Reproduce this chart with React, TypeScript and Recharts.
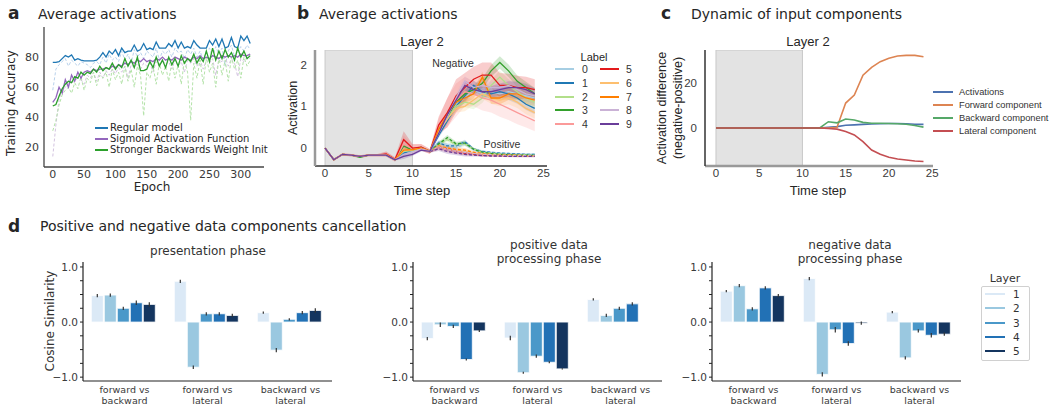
import React from 'react';
import { LineChart, ComposedChart, BarChart, Line, Area, Bar, ErrorBar, XAxis, YAxis, ReferenceArea } from 'recharts';

const FONT = '"DejaVu Sans", "Liberation Sans", sans-serif';
const ARIAL = '"Liberation Sans", Arial, sans-serif';
const INK = '#262626';
const TICK = { fontSize: 11, fill: '#3a3a3a' };
const TICK_ARIAL = { fontSize: 11.5, fill: '#3a3a3a', fontFamily: ARIAL };

// ---- a: training accuracy per epoch ----
const EPOCHS = [0, 5, 10, 15, 20, 25, 30, 35, 40, 45, 50, 55, 60, 65, 70, 75, 80, 85, 90, 95, 100, 105, 110, 115, 120, 125, 130, 135, 140, 145, 150, 155, 160, 165, 170, 175, 180, 185, 190, 195, 200, 205, 210, 215, 220, 225, 230, 235, 240, 245, 250, 255, 260, 265, 270, 275, 280, 285, 290, 295, 300, 305, 310, 315];
const REGULAR = [76.5, 76.5, 77, 79, 81, 80, 81.5, 78, 79, 78, 77.5, 77.5, 77.5, 77.5, 78, 80, 83, 80, 84, 82, 85, 81, 86, 83, 84, 84, 88, 84, 85, 89, 85, 86, 85, 90, 86, 86, 86, 89, 87, 91, 86, 90, 86, 87, 86, 91, 88, 86, 86, 86, 91, 88, 92, 87, 92, 86, 87, 93, 87, 86, 94, 91, 94, 89];
const REGULAR_DASH = [58, 72, 75, 77, 79, 74, 78, 76, 74, 77, 76, 75, 73, 76, 77, 75, 80, 76, 82, 78, 80, 77, 84, 78, 82, 76, 85, 80, 83, 79, 84, 82, 80, 86, 78, 84, 82, 85, 80, 86, 83, 84, 79, 85, 82, 86, 80, 84, 78, 84, 86, 80, 87, 82, 86, 74, 84, 88, 80, 83, 87, 84, 88, 85];
const SIGMOID = [50, 53, 60, 56, 65, 60, 68, 64, 70, 66, 70, 71, 70, 72, 71, 72, 72, 73, 72, 74, 73, 75, 74, 76, 75, 77, 76, 78, 77, 79, 77, 78, 77, 79, 78, 80, 78, 79, 78, 80, 79, 78, 80, 79, 78, 80, 79, 81, 79, 80, 79, 81, 80, 79, 81, 80, 81, 80, 81, 80, 82, 81, 81, 82];
const SIGMOID_DASH = [14, 35, 52, 58, 60, 62, 63, 64, 66, 65, 62, 68, 66, 70, 64, 70, 66, 71, 68, 72, 69, 73, 70, 74, 66, 75, 73, 76, 72, 76, 74, 76, 70, 77, 74, 78, 75, 77, 72, 78, 74, 77, 70, 78, 76, 79, 74, 78, 72, 78, 76, 79, 68, 78, 77, 80, 74, 79, 76, 67, 79, 77, 80, 79];
const BACKWARD = [47.5, 48.5, 54, 59, 62, 64, 63, 67, 66, 70, 68, 70, 69, 72, 70, 74, 71, 73, 72, 76, 72, 75, 73, 79, 74, 78, 73, 80, 71, 71, 72, 77, 73, 80, 74, 78, 73, 80, 75, 79, 74, 81, 76, 79, 77, 82, 76, 80, 77, 84, 77, 86, 78, 84, 79, 85, 80, 83, 78, 86, 80, 84, 79, 81];
const BACKWARD_DASH = [31, 38, 48, 55, 58, 60, 56, 63, 59, 67, 58, 66, 63, 70, 61, 68, 66, 70, 60, 72, 65, 70, 62, 74, 64, 72, 60, 74, 68, 41, 70, 66, 74, 62, 76, 68, 74, 64, 77, 66, 75, 62, 78, 70, 38, 76, 66, 78, 62, 80, 70, 76, 60, 80, 68, 78, 64, 80, 72, 78, 66, 80, 74, 78];
const MODELS = ['Regular model', 'Sigmoid Activation Function', 'Stronger Backwards Weight Init'];
const MODEL_COLORS = ['#1f77b4', '#9467bd', '#2ca02c'];
const MODEL_LIGHT = ['#b9d2ec', '#d3c3e0', '#b4e3a9'];

// ---- b: average activations per label ----
const STEPS = [0, 1, 2, 3, 4, 5, 6, 7, 8, 9, 10, 11, 12, 13, 14, 15, 16, 17, 18, 19, 20, 21, 22, 23, 24];
const LABELS = ['0', '1', '2', '3', '4', '5', '6', '7', '8', '9'];
const LABEL_COLORS = ['#a6cee3', '#1f78b4', '#b2df8a', '#33a02c', '#fb9a99', '#e31a1c', '#fdbf6f', '#ff7f00', '#cab2d6', '#6a3d9a'];
const NEG = [
  [0, -0.28, -0.15, -0.17, -0.2, -0.17, -0.17, -0.17, -0.28, -0.1, -0.08, 0, -0.08, 0.35, 0.75, 1.05, 1.2, 1.4, 1.3, 1.35, 1.3, 1.35, 1.3, 1.25, 1.2],
  [0, -0.28, -0.15, -0.17, -0.2, -0.17, -0.17, -0.17, -0.28, -0.12, -0.05, 0, -0.08, 0.3, 0.65, 1.0, 1.25, 1.5, 1.35, 1.3, 1.35, 1.3, 1.2, 1.05, 0.95],
  [0, -0.28, -0.15, -0.17, -0.21, -0.17, -0.17, -0.17, -0.28, -0.08, -0.06, 0, -0.08, 0.4, 0.7, 1.0, 1.1, 1.05, 1.2, 1.5, 1.7, 1.5, 1.35, 1.2, 1.1],
  [0, -0.28, -0.15, -0.17, -0.22, -0.17, -0.17, -0.16, -0.28, 0.05, -0.05, 0.02, -0.08, 0.45, 0.75, 1.1, 1.3, 1.4, 1.55, 1.85, 2.05, 1.85, 1.6, 1.45, 1.3],
  [0, -0.28, -0.15, -0.17, -0.2, -0.17, -0.17, -0.15, -0.28, 0.1, -0.02, 0.02, -0.08, 0.5, 0.85, 1.15, 1.35, 1.3, 1.2, 1.15, 1.05, 0.95, 0.85, 0.75, 0.65],
  [0, -0.28, -0.15, -0.17, -0.2, -0.17, -0.17, -0.14, -0.27, 0.2, 0, 0.02, -0.08, 0.55, 0.85, 1.25, 1.45, 1.65, 1.75, 1.75, 1.5, 1.5, 1.45, 1.45, 1.4],
  [0, -0.28, -0.15, -0.17, -0.2, -0.17, -0.17, -0.16, -0.28, -0.05, -0.05, 0, -0.08, 0.4, 0.7, 0.95, 1.0, 1.15, 1.3, 1.2, 1.15, 1.2, 1.1, 0.95, 0.85],
  [0, -0.28, -0.15, -0.17, -0.2, -0.17, -0.17, -0.16, -0.28, -0.05, -0.04, 0, -0.08, 0.45, 0.8, 1.1, 1.2, 1.3, 1.7, 1.2, 1.2, 1.3, 1.3, 1.2, 1.15],
  [0, -0.28, -0.15, -0.17, -0.2, -0.17, -0.17, -0.17, -0.28, -0.15, -0.1, -0.02, -0.08, 0.35, 0.75, 1.2, 1.6, 1.45, 1.5, 1.45, 1.45, 1.5, 1.4, 1.3, 1.25],
  [0, -0.28, -0.15, -0.17, -0.2, -0.17, -0.17, -0.17, -0.28, -0.2, -0.15, -0.05, -0.08, 0.35, 0.8, 1.15, 1.5, 1.4, 1.35, 1.35, 1.4, 1.45, 1.45, 1.4, 1.3],
];
// positive-data runs only split off from step 12
const POS_START = 12;
const POS = [
  [-0.08, 0.15, 0.05, 0.0, 0.1, -0.05, -0.1, -0.12, -0.13, -0.14, -0.15, -0.15, -0.15],
  [-0.08, 0.12, 0.05, 0.05, 0.15, -0.02, -0.08, -0.1, -0.12, -0.13, -0.14, -0.15, -0.15],
  [-0.08, 0.1, 0.2, 0.08, 0.1, -0.02, -0.1, -0.12, -0.14, -0.15, -0.16, -0.16, -0.17],
  [-0.08, 0.1, 0.25, 0.1, 0.12, -0.03, -0.1, -0.13, -0.15, -0.16, -0.17, -0.17, -0.18],
  [-0.08, 0.0, -0.05, -0.1, -0.12, -0.15, -0.17, -0.18, -0.19, -0.19, -0.2, -0.2, -0.2],
  [-0.08, 0.02, -0.02, -0.08, -0.12, -0.15, -0.17, -0.18, -0.18, -0.19, -0.19, -0.19, -0.19],
  [-0.08, 0.05, 0.0, -0.05, -0.08, -0.12, -0.14, -0.16, -0.17, -0.17, -0.18, -0.18, -0.18],
  [-0.08, 0.05, 0.0, -0.03, -0.05, -0.1, -0.13, -0.15, -0.16, -0.17, -0.17, -0.18, -0.18],
  [-0.08, 0.03, -0.03, -0.08, -0.1, -0.13, -0.15, -0.16, -0.17, -0.18, -0.18, -0.18, -0.19],
  [-0.08, -0.02, -0.08, -0.12, -0.15, -0.17, -0.18, -0.19, -0.19, -0.2, -0.2, -0.2, -0.2],
];
const SPREAD_WIDE = [0, 0.03, 0.03, 0.03, 0.03, 0.03, 0.03, 0.06, 0.05, 0.2, 0.1, 0.08, 0.06, 0.2, 0.35, 0.4, 0.35, 0.3, 0.3, 0.3, 0.3, 0.28, 0.28, 0.26, 0.25];
const SPREAD_NARROW = [0, 0.01, 0.01, 0.01, 0.01, 0.01, 0.01, 0.02, 0.02, 0.06, 0.04, 0.03, 0.03, 0.06, 0.08, 0.1, 0.12, 0.12, 0.12, 0.14, 0.15, 0.15, 0.14, 0.14, 0.14];
const WIDE_LABELS = [4, 5];
const SPREAD_POS = [0.03, 0.05, 0.06, 0.05, 0.05, 0.03, 0.03, 0.02, 0.02, 0.02, 0.02, 0.02, 0.02];

// ---- c: input components ----
const ACTIVATIONS = [0, 0, 0, 0, 0, 0, 0, 0, 0, 0, 0, 0, 0, 0.3, 0.6, 1.2, 1.4, 1.6, 1.8, 1.9, 2.0, 2.0, 1.9, 1.7, 1.6];
const FORWARD = [0, 0, 0, 0, 0, 0, 0, 0, 0, 0, 0, 0, 0, 0, 0.3, 11.1, 14.7, 23.5, 27, 29.5, 31, 32, 32.3, 32.3, 31.7];
const BACKWARD_C = [0, 0, 0, 0, 0, 0, 0, 0, 0, 0, 0, 0, 0, 2.8, 2.3, 4.0, 3.6, 2.5, 2.1, 2.1, 2.0, 1.9, 1.7, 1.1, 0.4];
const LATERAL = [0, 0, 0, 0, 0, 0, 0, 0, 0, 0, 0, 0, 0, -0.2, -0.5, -1.6, -3.1, -6.1, -9.8, -11.7, -13, -13.8, -14.2, -14.7, -14.9];
const COMPONENTS = ['Activations', 'Forward component', 'Backward component', 'Lateral component'];
const COMP_COLORS = ['#4c72b0', '#dd8452', '#55a868', '#c44e52'];

// ---- d: cosine similarity ----
const PAIRS = ['forward vs\nbackward', 'forward vs\nlateral', 'backward vs\nlateral'];
const LAYERS = ['1', '2', '3', '4', '5'];
const LAYER_COLORS = ['#dbe9f6', '#9ac8e0', '#4a98c9', '#2271b5', '#14355f'];
const PRESENT = [[0.48, 0.74, 0.17], [0.49, -0.82, -0.51], [0.25, 0.15, 0.05], [0.35, 0.15, 0.17], [0.32, 0.12, 0.21]];
const PRESENT_ERR = [[0.03, 0.03, 0.02], [0.03, 0.03, 0.04], [0.03, 0.03, 0.02], [0.04, 0.03, 0.03], [0.04, 0.03, 0.04]];
const POSITIVE = [[-0.3, -0.29, 0.41], [-0.05, -0.92, 0.12], [-0.08, -0.62, 0.25], [-0.68, -0.73, 0.33], [-0.16, -0.85, 0]];
const POSITIVE_ERR = [[0.03, 0.04, 0.02], [0.04, 0.02, 0.03], [0.03, 0.03, 0.03], [0.02, 0.02, 0.03], [0.02, 0.01, 0.01]];
const NEGATIVE = [[0.56, 0.79, 0.18], [0.66, -0.95, -0.65], [0.24, -0.14, -0.16], [0.62, -0.39, -0.24], [0.48, -0.02, -0.22]];
const NEGATIVE_ERR = [[0.02, 0.03, 0.02], [0.03, 0.04, 0.03], [0.03, 0.05, 0.03], [0.03, 0.04, 0.04], [0.03, 0.03, 0.03]];
const SIM_TICKS = [-1, -0.75, -0.5, -0.25, 0, 0.25, 0.5, 0.75, 1];

const accRows = EPOCHS.map((e, i) => ({
  epoch: e,
  m0: REGULAR[i], d0: REGULAR_DASH[i],
  m1: SIGMOID[i], d1: SIGMOID_DASH[i],
  m2: BACKWARD[i], d2: BACKWARD_DASH[i],
}));

const actRows = STEPS.map((t, i) => {
  const row: any = { t };
  LABELS.forEach((_, k) => {
    const sp = WIDE_LABELS.includes(k) ? SPREAD_WIDE : SPREAD_NARROW;
    row['n' + k] = NEG[k][i];
    row['bn' + k] = [NEG[k][i] - sp[i], NEG[k][i] + sp[i]];
    if (t >= POS_START) {
      const j = t - POS_START;
      row['p' + k] = POS[k][j];
      row['bp' + k] = [POS[k][j] - SPREAD_POS[j], POS[k][j] + SPREAD_POS[j]];
    }
  });
  return row;
});

const compRows = STEPS.map((t, i) => ({ t, c0: ACTIVATIONS[i], c1: FORWARD[i], c2: BACKWARD_C[i], c3: LATERAL[i] }));

const simRows = (vals: number[][], errs: number[][]) =>
  PAIRS.map((name, j) => {
    const row: any = { name };
    LAYERS.forEach((_, k) => { row['l' + k] = vals[k][j]; row['e' + k] = errs[k][j]; });
    return row;
  });

const MT = 6, MR = 14;
function frame(x0: number, y0: number, x1: number, y1: number, yW: number, xH: number) {
  return { left: x0 - yW, top: y0 - MT, width: yW + (x1 - x0) + MR, height: MT + (y1 - y0) + xH };
}

function Txt({ x, y, size = 12, anchor = 'start', bold = false, rotate = false, color = INK, font, children }: any) {
  const tx = anchor === 'middle' ? '-50%' : '0';
  return (
    <div style={{
      position: 'absolute', left: x, top: y, fontSize: size, fontWeight: bold ? 700 : 400, color,
      fontFamily: font || FONT, lineHeight: 1.15, whiteSpace: 'nowrap', textAlign: 'center',
      transform: rotate ? 'translate(-50%,-50%) rotate(-90deg)' : `translate(${tx},-50%)`,
    }}>{children}</div>
  );
}

function Swatch({ x, y, w = 20, color, dash = false }: any) {
  return <div style={{ position: 'absolute', left: x, top: y - 1, width: w, height: 0, borderTop: `2px ${dash ? 'dashed' : 'solid'} ${color}` }} />;
}

function PairTick({ x, y, payload }: any) {
  const lines = String(payload.value).split('\n');
  return (
    <text x={x} y={y + 12} textAnchor="middle" fontSize={9.5} fill="#3a3a3a">
      {lines.map((l, i) => <tspan key={i} x={x} dy={i === 0 ? 0 : 11}>{l}</tspan>)}
    </text>
  );
}

const simFmt = (v: number) => (v === 1 ? '1.0' : v === 0 ? '0.0' : v === -1 ? '\u22121.0' : '');

function SimChart({ x0, rows }: { x0: number; rows: any[] }) {
  const f = frame(x0, 262, x0 + 249, 381, 34, 30);
  return (
    <div style={{ position: 'absolute', left: f.left, top: f.top }}>
      <BarChart width={f.width} height={f.height} data={rows} margin={{ top: MT, right: MR, left: 0, bottom: 0 }}
        barCategoryGap="10%" barGap={1}>
        <XAxis dataKey="name" tick={<PairTick />} tickLine={false} tickSize={0} tickMargin={0} height={30} interval={0}
          axisLine={{ stroke: '#222', strokeWidth: 1.2 }} />
        <YAxis type="number" domain={[-1.07, 1.09]} ticks={SIM_TICKS} tickFormatter={simFmt} allowDataOverflow width={34}
          tick={{ fontSize: 10.5, fill: '#3a3a3a' }} tickSize={3} tickMargin={2}
          axisLine={{ stroke: '#222', strokeWidth: 1.2 }} tickLine={{ stroke: '#222' }} />
        {LAYERS.map((l, k) => (
          <Bar key={l} dataKey={'l' + k} fill={LAYER_COLORS[k]} stroke="#fff" strokeWidth={0.8} isAnimationActive={false}>
            <ErrorBar dataKey={'e' + k} width={0} stroke="#333" strokeWidth={1.2} direction="y" />
          </Bar>
        ))}
      </BarChart>
    </div>
  );
}

export default function App() {
  const fa = frame(44, 27, 264, 167, 34, 20);
  const fb = frame(315, 50, 547, 166, 30, 20);
  const fc = frame(705, 50, 933, 166, 30, 20);
  return (
    <div style={{ position: 'absolute', left: 0, top: 0, width: 1049, height: 408, background: '#fff', fontFamily: FONT, overflow: 'hidden' }}>
      {/* panel a */}
      <Txt x={8} y={14} size={17} bold>a</Txt>
      <Txt x={38} y={14} size={14}>Average activations</Txt>
      <div style={{ position: 'absolute', left: fa.left, top: fa.top }}>
        <LineChart width={fa.width} height={fa.height} data={accRows} margin={{ top: MT, right: MR, left: 0, bottom: 0 }}>
          <XAxis dataKey="epoch" type="number" domain={[-14, 337]} ticks={[0, 50, 100, 150, 200, 250, 300]} allowDataOverflow
            tick={TICK} tickLine={false} tickSize={0} tickMargin={3} height={20} axisLine={{ stroke: '#444', strokeWidth: 1.3 }} />
          <YAxis type="number" domain={[7, 100]} ticks={[20, 40, 60, 80]} allowDataOverflow width={34}
            tick={TICK} tickLine={false} tickSize={0} tickMargin={5} axisLine={{ stroke: '#444', strokeWidth: 1.3 }} />
          {MODELS.map((m, k) => (
            <Line key={'d' + k} dataKey={'d' + k} stroke={MODEL_LIGHT[k]} strokeWidth={1} strokeDasharray="3 2" dot={false} isAnimationActive={false} />
          ))}
          {MODELS.map((m, k) => (
            <Line key={'m' + k} dataKey={'m' + k} stroke={MODEL_COLORS[k]} strokeWidth={1.3} dot={false} isAnimationActive={false} />
          ))}
        </LineChart>
      </div>
      {MODELS.map((m, k) => (
        <React.Fragment key={m}>
          <Swatch x={95} y={128 + k * 11} w={13} color={MODEL_COLORS[k]} />
          <Txt x={110} y={128 + k * 11} size={10}>{m}</Txt>
        </React.Fragment>
      ))}
      <Txt x={12} y={103} size={12} rotate>Training Accuracy</Txt>
      <Txt x={152} y={188} size={12} anchor="middle">Epoch</Txt>

      {/* panel b */}
      <Txt x={297} y={14} size={17} bold>b</Txt>
      <Txt x={319} y={14} size={14}>Average activations</Txt>
      <Txt x={422} y={42} size={13} anchor="middle" font={ARIAL}>Layer 2</Txt>
      <div style={{ position: 'absolute', left: fb.left, top: fb.top }}>
        <ComposedChart width={fb.width} height={fb.height} data={actRows} margin={{ top: MT, right: MR, left: 0, bottom: 0 }}>
          <XAxis dataKey="t" type="number" domain={[-1.15, 25.4]} ticks={[0, 5, 10, 15, 20, 25]} allowDataOverflow
            tick={TICK_ARIAL} tickLine={false} tickSize={0} tickMargin={3} height={20} axisLine={{ stroke: '#333', strokeWidth: 1.5 }} />
          <YAxis type="number" domain={[-0.43, 2.35]} ticks={[0, 1, 2]} allowDataOverflow width={30}
            tick={TICK_ARIAL} tickLine={false} tickSize={0} tickMargin={8} axisLine={{ stroke: '#999', strokeWidth: 2.5 }} />
          <ReferenceArea x1={0} x2={10} y1={-0.43} y2={2.35} fill="#e3e3e3" fillOpacity={1} stroke="#c8c8c8" strokeWidth={1} ifOverflow="hidden" />
          {LABELS.map((l, k) => (
            <Area key={'bn' + k} dataKey={'bn' + k} stroke="none" fill={LABEL_COLORS[k]} fillOpacity={0.22} isAnimationActive={false} />
          ))}
          {LABELS.map((l, k) => (
            <Area key={'bp' + k} dataKey={'bp' + k} stroke="none" fill={LABEL_COLORS[k]} fillOpacity={0.22} isAnimationActive={false} />
          ))}
          {LABELS.map((l, k) => (
            <Line key={'p' + k} dataKey={'p' + k} stroke={LABEL_COLORS[k]} strokeWidth={1.3} strokeDasharray="3 2" dot={false} isAnimationActive={false} />
          ))}
          {LABELS.map((l, k) => (
            <Line key={'n' + k} dataKey={'n' + k} stroke={LABEL_COLORS[k]} strokeWidth={1.3} dot={false} isAnimationActive={false} />
          ))}
        </ComposedChart>
      </div>
      <Txt x={453} y={63} size={10.5} color="#333" anchor="middle" font={ARIAL}>Negative</Txt>
      <Txt x={502} y={144} size={10.5} color="#333" anchor="middle" font={ARIAL}>Positive</Txt>
      <Txt x={293} y={108} size={12.5} rotate font={ARIAL}>Activation</Txt>
      <Txt x={422} y={191} size={13} anchor="middle" font={ARIAL}>Time step</Txt>
      <Txt x={594} y={57} size={11} anchor="middle" font={ARIAL}>Label</Txt>
      {LABELS.map((l, k) => {
        const col = k < 5 ? 0 : 1;
        const row = k % 5;
        const y = 69 + row * 13.8;
        return (
          <React.Fragment key={l}>
            <Swatch x={col ? 600 : 555} y={y} w={19} color={LABEL_COLORS[k]} />
            <Txt x={col ? 626 : 582} y={y} size={10.5} color="#333" font={ARIAL}>{l}</Txt>
          </React.Fragment>
        );
      })}

      {/* panel c */}
      <Txt x={661} y={14} size={17} bold>c</Txt>
      <Txt x={691} y={14} size={14}>Dynamic of input components</Txt>
      <Txt x={808} y={42} size={13} anchor="middle" font={ARIAL}>Layer 2</Txt>
      <div style={{ position: 'absolute', left: fc.left, top: fc.top }}>
        <LineChart width={fc.width} height={fc.height} data={compRows} margin={{ top: MT, right: MR, left: 0, bottom: 0 }}>
          <XAxis dataKey="t" type="number" domain={[-1.27, 25.1]} ticks={[0, 5, 10, 15, 20, 25]} allowDataOverflow
            tick={TICK_ARIAL} tickLine={false} tickSize={0} tickMargin={3} height={20} axisLine={{ stroke: '#999', strokeWidth: 2.5 }} />
          <YAxis type="number" domain={[-16.9, 34.7]} ticks={[0, 20]} allowDataOverflow width={30}
            tick={TICK_ARIAL} tickLine={false} tickSize={0} tickMargin={8} axisLine={{ stroke: '#333', strokeWidth: 1.5 }} />
          <ReferenceArea x1={0} x2={10} y1={-16.9} y2={34.7} fill="#e3e3e3" fillOpacity={1} stroke="#c8c8c8" strokeWidth={1} ifOverflow="hidden" />
          {COMPONENTS.map((c, k) => (
            <Line key={c} dataKey={'c' + k} stroke={COMP_COLORS[k]} strokeWidth={1.6} dot={false} isAnimationActive={false} />
          ))}
        </LineChart>
      </div>
      <Txt x={662} y={108} size={12.5} rotate font={ARIAL}>Activation difference</Txt>
      <Txt x={678} y={108} size={12.5} rotate font={ARIAL}>(negative-positive)</Txt>
      <Txt x={818} y={191} size={13} anchor="middle" font={ARIAL}>Time step</Txt>
      {COMPONENTS.map((c, k) => (
        <React.Fragment key={c}>
          <Swatch x={933} y={92 + k * 13} w={20} color={COMP_COLORS[k]} />
          <Txt x={959} y={92 + k * 13} size={9.3} color="#333" font={ARIAL}>{c}</Txt>
        </React.Fragment>
      ))}

      {/* panel d */}
      <Txt x={8} y={227} size={17} bold>d</Txt>
      <Txt x={40} y={226} size={14}>Positive and negative data components cancellation</Txt>
      <Txt x={208} y={252} size={12} anchor="middle" color="#333">presentation phase</Txt>
      <Txt x={549} y={253} size={12} anchor="middle" color="#333">positive data<br />processing phase</Txt>
      <Txt x={850} y={253} size={12} anchor="middle" color="#333">negative data<br />processing phase</Txt>
      <Txt x={51} y={321} size={12} rotate color="#333">Cosine Similarity</Txt>
      <SimChart x0={83} rows={simRows(PRESENT, PRESENT_ERR)} />
      <SimChart x0={413} rows={simRows(POSITIVE, POSITIVE_ERR)} />
      <SimChart x0={712} rows={simRows(NEGATIVE, NEGATIVE_ERR)} />
      <Txt x={1005} y={279} size={11} anchor="middle" color="#333">Layer</Txt>
      <div style={{ position: 'absolute', left: 981, top: 286, width: 47, height: 73, border: '1px solid #d0d0d0', borderRadius: 2 }} />
      {LAYERS.map((l, k) => (
        <React.Fragment key={l}>
          <Swatch x={985} y={294 + k * 14.3} w={20} color={LAYER_COLORS[k]} />
          <Txt x={1013} y={294 + k * 14.3} size={10.5} color="#333">{l}</Txt>
        </React.Fragment>
      ))}
    </div>
  );
}
